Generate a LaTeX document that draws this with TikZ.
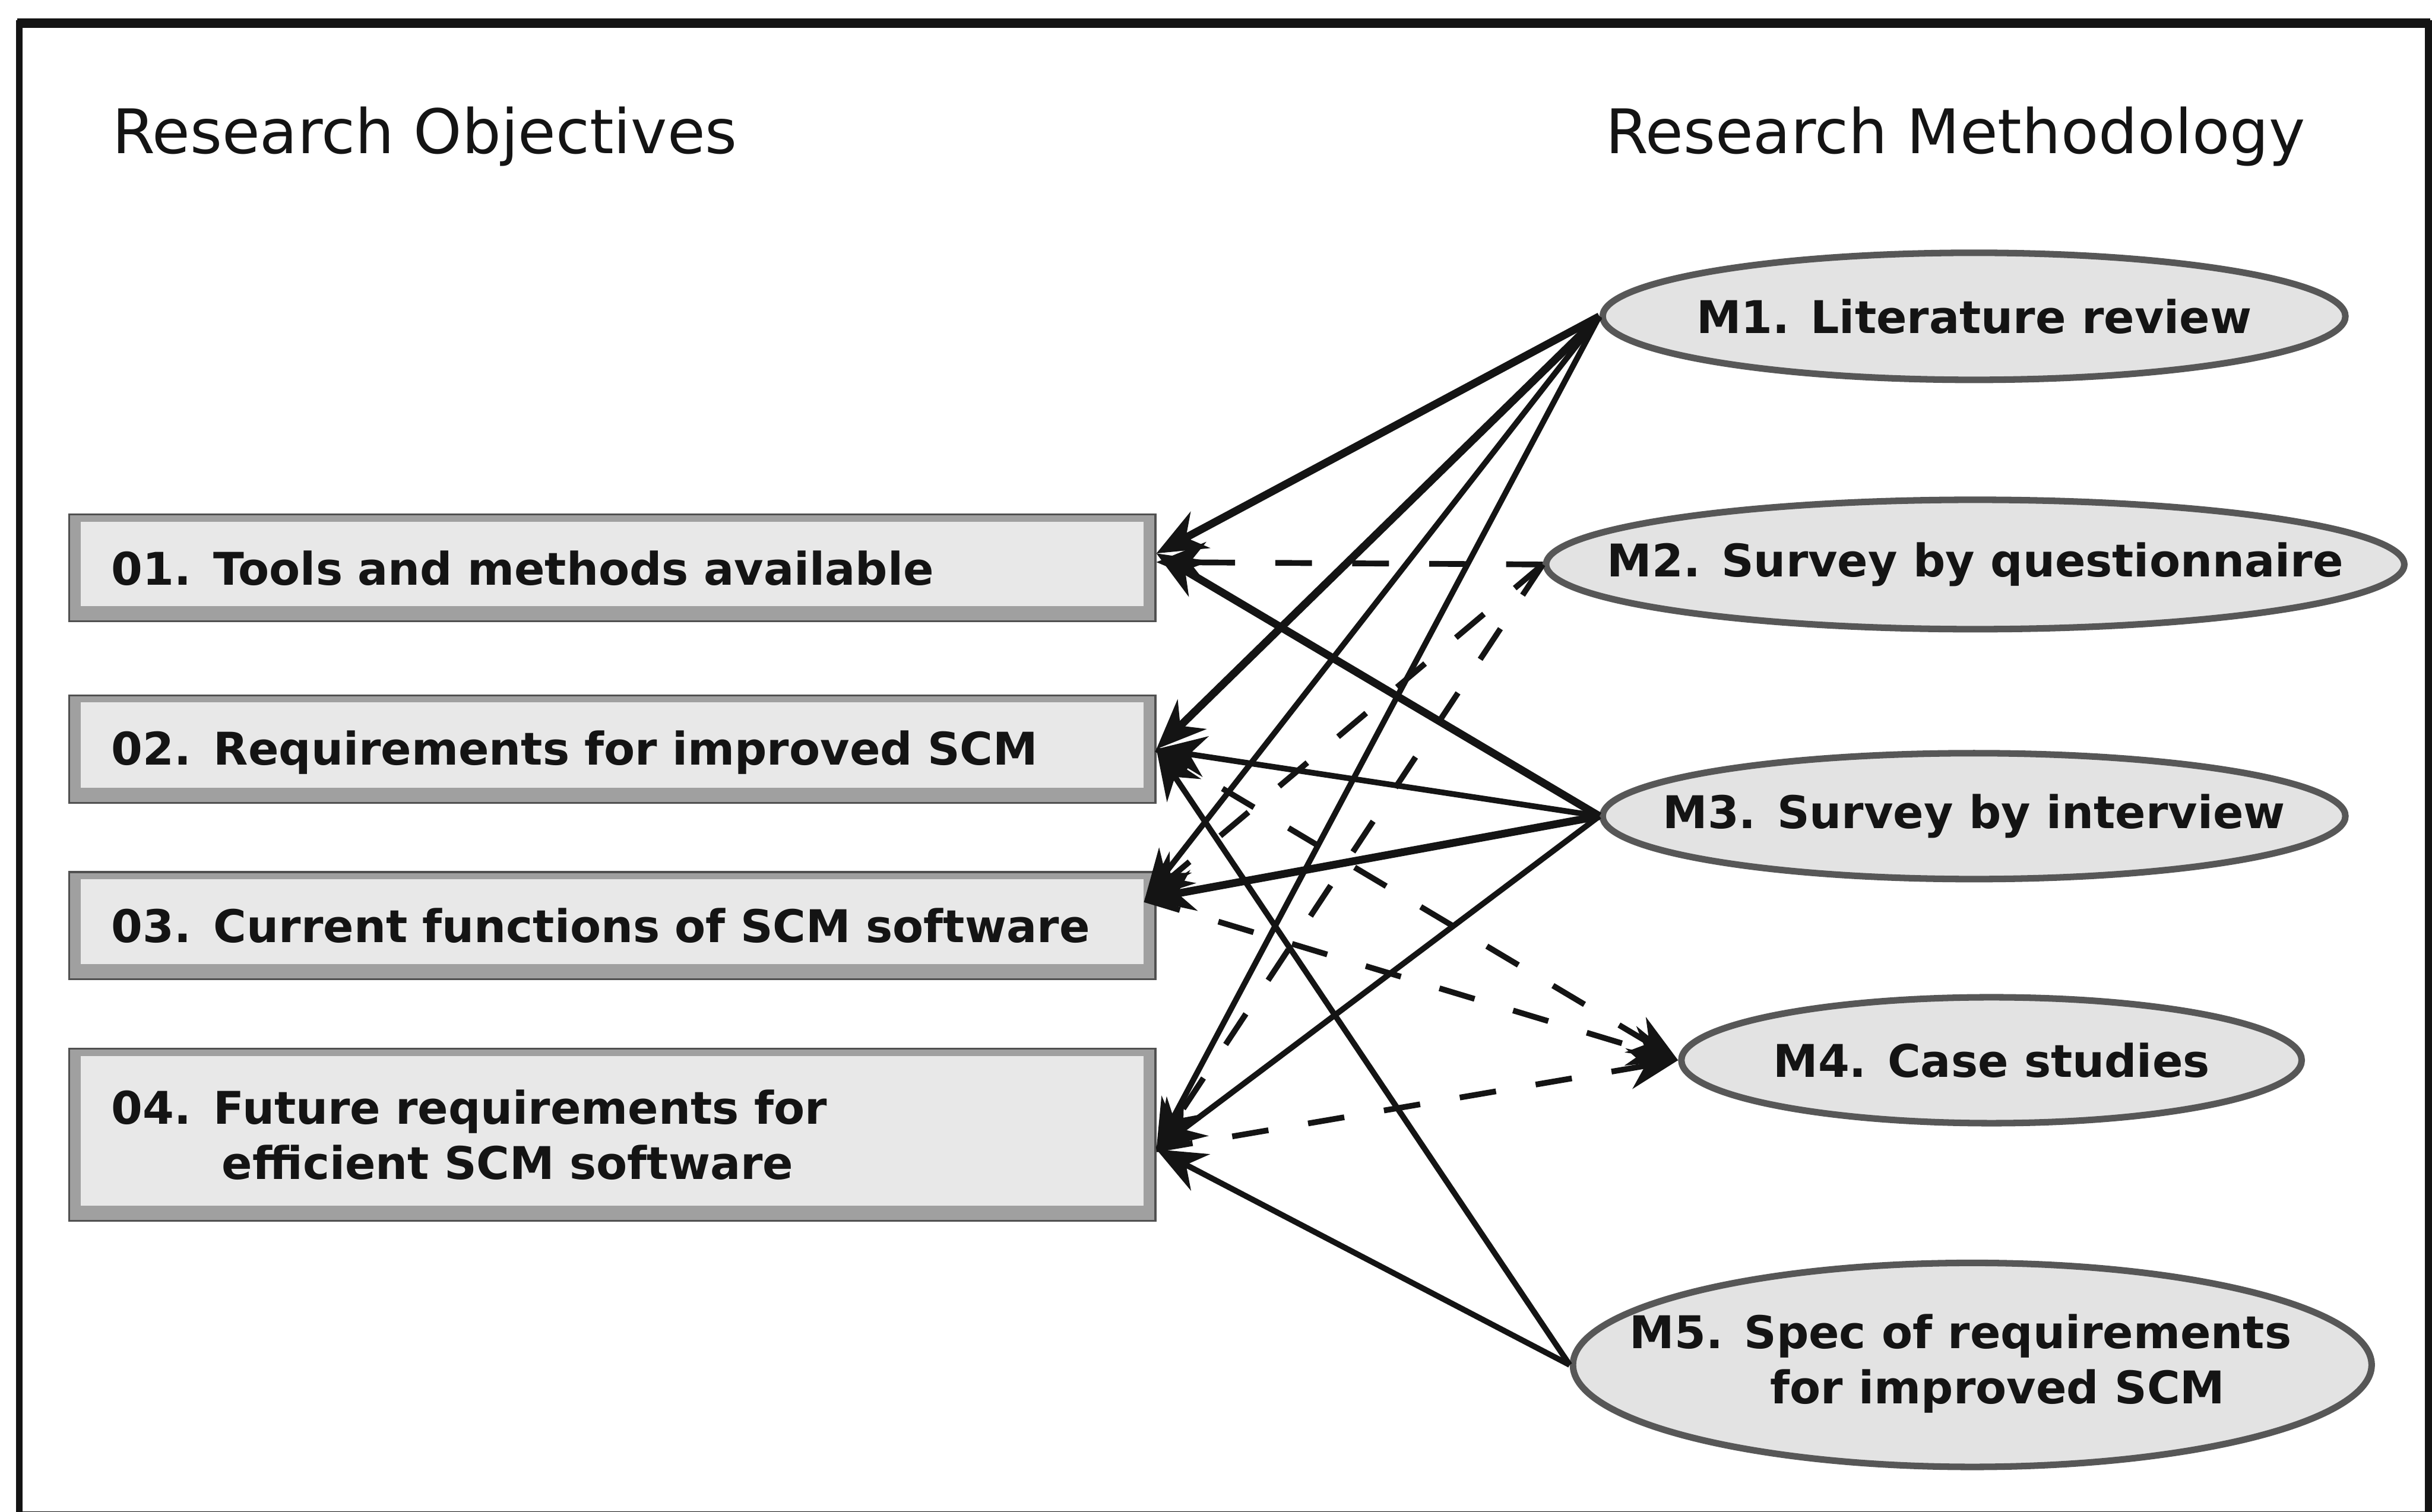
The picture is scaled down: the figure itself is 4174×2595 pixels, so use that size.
\documentclass[tikz,border=0pt]{standalone}
\usepackage{fontspec}
\setmainfont{DejaVu Sans}
\usetikzlibrary{arrows.meta,shapes.geometric}

\definecolor{boxfill}{HTML}{E8E8E8}
\definecolor{boxband}{HTML}{A0A0A0}
\definecolor{boxedge}{HTML}{505050}
\definecolor{ovalfill}{HTML}{E3E3E3}
\definecolor{ovaledge}{HTML}{575757}
\definecolor{ink}{HTML}{141414}

% strut that keeps every box line at the same height and depth
\newcommand\linestrut{\rule[-3.5pt]{0pt}{23.5pt}}

\begin{document}
\begin{tikzpicture}[x=0.01cm, y=0.01cm,
  heading/.style={anchor=base west, inner sep=0pt, font=\fontsize{30}{36}\selectfont, text=ink},
  objbox/.style={rectangle, draw=boxedge, line width=0.9pt, fill=boxband,
     minimum width=18.63cm, text width=17.19cm, inner xsep=0.72cm, inner ysep=0pt, align=left,
     font=\bfseries\fontsize{22}{27}\selectfont, text=ink,
     path picture={\fill[boxfill]
       ([xshift=0.2cm,yshift=0.26cm]path picture bounding box.south west) rectangle
       ([xshift=-0.2cm,yshift=-0.12cm]path picture bounding box.north east);}},
  method/.style={ellipse, draw=ovaledge, line width=3.2pt, fill=ovalfill, inner sep=0pt,
     font=\bfseries\fontsize{22}{27}\selectfont, text=ink},
  link/.style={draw=ink, line width=2.8pt, -{Stealth[length=0.85cm, width=0.7cm]}},
  heavy/.style={line width=3.8pt},
  dashlink/.style={link, dash pattern=on 0.63cm off 0.69cm},
]
\useasboundingbox (0,0) rectangle (4174,-2595);

% outer frame, heavier along the top
\draw[ink, line width=3.3pt] (33,-2600) -- (33,-40) -- (4168,-40) -- (4168,-2600) -- cycle;
\draw[ink, line width=4.6pt] (30,-40) -- (4171,-40);

% column headings
\node[heading] (hobj) at (192,-263) {Research Objectives};
\node[heading] (hmeth) at (2755,-263) {Research Methodology};

% objectives
\node[objbox, minimum height=1.83cm] (O1) at (1051,-975) {\linestrut 01. Tools and methods available};
\node[objbox, minimum height=1.84cm] (O2) at (1051,-1286) {\linestrut 02. Requirements for improved SCM};
\node[objbox, minimum height=1.84cm] (O3) at (1051,-1589) {\linestrut 03. Current functions of SCM software};
\node[objbox, minimum height=2.95cm] (O4) at (1051,-1948) {\linestrut 04. Future requirements for\\\hspace*{1.9cm}\linestrut efficient SCM software};

% methods
\node[method, minimum width=12.74cm, minimum height=2.18cm] (M1) at (3388,-543) {\makebox[0pt]{M1. Literature review}};
\node[method, minimum width=14.72cm, minimum height=2.22cm] (M2) at (3390,-969) {\makebox[0pt]{M2. Survey by questionnaire}};
\node[method, minimum width=12.74cm, minimum height=2.16cm] (M3) at (3388,-1401) {\makebox[0pt]{M3. Survey by interview}};
\node[method, minimum width=10.64cm, minimum height=2.16cm] (M4) at (3418,-1820) {\makebox[0pt]{M4. Case studies}};
\node[method, minimum width=13.70cm, minimum height=3.50cm] (M5) at (3385,-2343)
  {\makebox[0pt]{\kern-0.4cm\begin{tabular}{@{}l@{}}M5. Spec of requirements\\\hspace*{2.41cm}for improved SCM\end{tabular}}};

% connectors from the methods to the objectives
\draw[link, heavy] (M1.west) -- ([yshift=0.25cm]O1.east);
\draw[link, heavy] (M1.west) -- (O2.east);
\draw[link] (M1.west) -- ([xshift=-0.2cm,yshift=0.45cm]O3.east);
\draw[link] (M1.west) -- ([yshift=-0.25cm]O4.east);

\draw[dashlink] (M2.west) -- ([yshift=0.1cm]O1.east);
\draw[dashlink] (M2.west) -- ([xshift=-0.2cm,yshift=0.45cm]O3.east);
\draw[dashlink] (M2.west) -- ([yshift=-0.25cm]O4.east);

\draw[link, heavy] (M3.west) -- ([yshift=0.25cm]O1.east);
\draw[link] (M3.west) -- (O2.east);
\draw[link, heavy] (M3.west) -- ([xshift=-0.2cm,yshift=0.45cm]O3.east);
\draw[link] (M3.west) -- ([yshift=-0.25cm]O4.east);

\draw[dashlink] (O2.east) -- (M4.west);
\draw[dashlink] ([xshift=-0.2cm,yshift=0.45cm]O3.east) -- (M4.west);
\draw[dashlink] ([yshift=-0.25cm]O4.east) -- (M4.west);

\draw[link] (M5.west) -- (O2.east);
\draw[link] (M5.west) -- ([yshift=-0.25cm]O4.east);
\end{tikzpicture}
\end{document}
